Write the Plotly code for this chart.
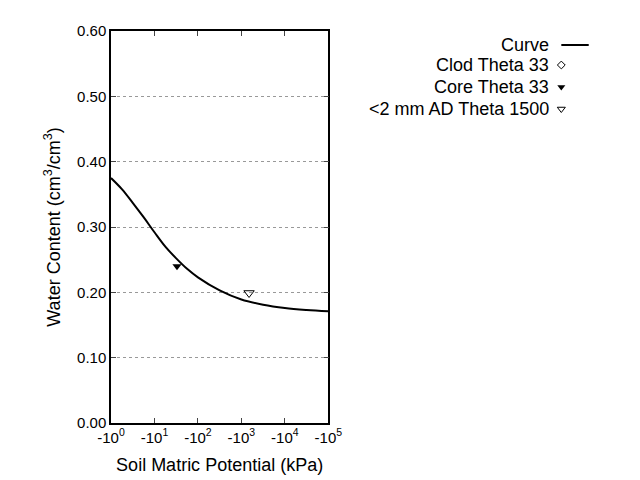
import plotly.graph_objects as go

curve_logx = [0, 0.25, 0.5, 0.75, 1.0, 1.25, 1.5, 1.75, 2.0, 2.5, 3.0, 3.5, 4.0, 4.5, 5.0]
curve_theta = [0.375, 0.358, 0.337, 0.315, 0.292, 0.270, 0.252, 0.236, 0.223, 0.203, 0.189, 0.181, 0.176, 0.173, 0.171]
core_x = [33]; core_y = [0.240]
ad_x = [1500]; ad_y = [0.199]
xtick_vals = [1, 10, 100, 1000, 10000, 100000]
xtick_text = ["-10<sup>%d</sup>" % i for i in range(6)]
ytick_vals = [0, 0.1, 0.2, 0.3, 0.4, 0.5, 0.6]
legend_names = ["Curve", "Clod Theta 33", "Core Theta 33", "&lt;2 mm AD Theta 1500"]

F = dict(family="Liberation Sans, Arial", color="black")
fig = go.Figure()
fig.add_trace(go.Scatter(x=[10**v for v in curve_logx], y=curve_theta, mode="lines",
                         line=dict(color="black", width=2), line_shape="spline", showlegend=False))
fig.add_trace(go.Scatter(x=core_x, y=core_y, mode="markers",
                         marker=dict(symbol="triangle-down", color="black", size=8), showlegend=False))
fig.add_trace(go.Scatter(x=ad_x, y=ad_y, mode="markers",
                         marker=dict(symbol="triangle-down-open", color="black", size=9, line=dict(width=1)), showlegend=False))

# legend on a pixel-scaled auxiliary axis
ly = [37, 57, 79, 101]
fig.add_trace(go.Scatter(x=[563, 591], y=[37, 37], mode="lines", line=dict(color="black", width=2),
                         xaxis="x2", yaxis="y2", showlegend=False))
fig.add_trace(go.Scatter(x=[563], y=[57], mode="markers", marker=dict(symbol="diamond-open", color="black", size=6),
                         xaxis="x2", yaxis="y2", showlegend=False))
fig.add_trace(go.Scatter(x=[563], y=[79], mode="markers", marker=dict(symbol="triangle-down", color="black", size=7),
                         xaxis="x2", yaxis="y2", showlegend=False))
fig.add_trace(go.Scatter(x=[563], y=[101], mode="markers", marker=dict(symbol="triangle-down-open", color="black", size=7),
                         xaxis="x2", yaxis="y2", showlegend=False))
for name, yy in zip(legend_names, ly):
    fig.add_annotation(x=552, y=yy, xref="x2", yref="y2", text=name, showarrow=False,
                       xanchor="right", yanchor="middle", font=dict(size=18, **F))

fig.update_layout(
    width=640, height=480, paper_bgcolor="white", plot_bgcolor="rgba(0,0,0,0)",
    margin=dict(l=103, r=15, t=23, b=65), font=dict(size=15, **F),
    xaxis=dict(type="log", range=[0, 5], tickvals=xtick_vals, ticktext=xtick_text, domain=[0, 222/522],
               showline=True, linecolor="black", linewidth=1.5, mirror="ticks", ticks="inside",
               ticklen=5, showgrid=False, zeroline=False, tickfont=dict(size=15, **F),
               title=dict(text="Soil Matric Potential (kPa)", font=dict(size=18, **F), standoff=14)),
    yaxis=dict(range=[0, 0.6], tickvals=ytick_vals, tickformat=".2f",
               showline=True, linecolor="black", linewidth=1.5, mirror="ticks", ticks="inside",
               ticklen=5, showgrid=True, gridcolor="#999", griddash="dot", zeroline=False,
               tickfont=dict(size=15, **F),
               title=dict(text="Water Content (cm<sup>3</sup>/cm<sup>3</sup>)", font=dict(size=18, **F), standoff=12)),
    xaxis2=dict(domain=[0, 1], range=[103, 625], visible=False, anchor="y2"),
    yaxis2=dict(domain=[0, 1], range=[415, 23], visible=False, anchor="x2"),
)
fig.write_html("out.html")
